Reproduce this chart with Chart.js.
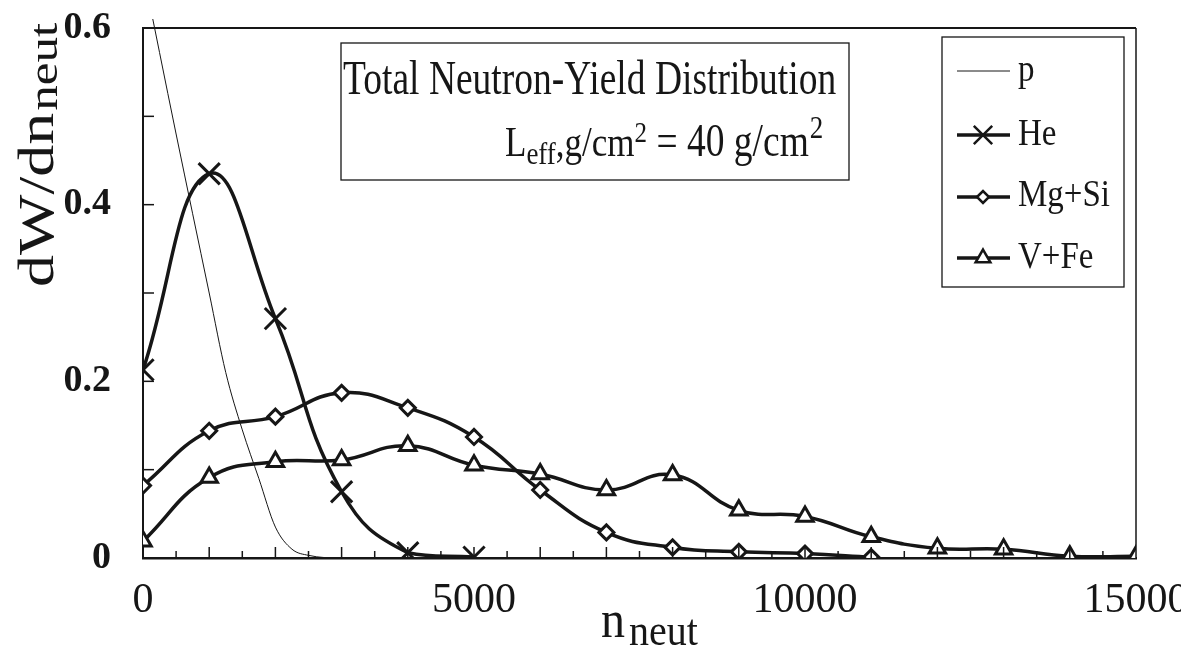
<!DOCTYPE html>
<html>
<head>
<meta charset="utf-8">
<script src="https://cdn.jsdelivr.net/npm/chart.js@4"></script>
<style>
  html, body { margin: 0; padding: 0; background: #fff; }
</style>
</head>
<body>
<canvas id="neutChart" width="1181" height="647"></canvas>
<script>
// values
const nP = [0, 500, 1000, 1250, 1500, 1750, 2000, 2250, 2500, 3000, 3500];
const pVals = [0.665, 0.48, 0.30, 0.21, 0.145, 0.09, 0.035, 0.01, 0.003, 0.0, 0.0];

const nHe = [0, 1000, 2000, 3000, 4000, 5000];
const heVals = [0.213, 0.435, 0.271, 0.075, 0.006, 0.001];

const nMgSi = [0, 1000, 2000, 3000, 4000, 5000, 6000, 7000, 8000, 9000, 10000, 11000];
const mgsiVals = [0.082, 0.144, 0.160, 0.187, 0.170, 0.137, 0.077, 0.029, 0.012, 0.007, 0.005, 0.001];

const nVFe = [0, 1000, 2000, 3000, 4000, 5000, 6000, 7000, 8000, 9000, 10000, 11000, 12000, 13000, 14000, 15000];
const vfeVals = [0.019, 0.091, 0.109, 0.111, 0.127, 0.105, 0.095, 0.077, 0.094, 0.054, 0.047, 0.024, 0.011, 0.010, 0.002, 0.002];

const xLabeled = [0, 5000, 10000, 15000];
const yLabeled = [0, 0.2, 0.4, 0.6];

const SERIF = '"Liberation Serif", "Times New Roman", serif';
const INK = '#161616';

function pts(xs, ys) {
  return xs.map((x, i) => ({ x: x, y: ys[i] }));
}

// text squeezed a bit like the scanned original
function stretchText(ctx, str, x, y, font, sx, sy) {
  ctx.save();
  ctx.translate(x, y);
  ctx.scale(sx, sy);
  ctx.font = font;
  ctx.textAlign = 'left';
  ctx.textBaseline = 'alphabetic';
  ctx.fillText(str, 0, 0);
  const w = ctx.measureText(str).width * sx;
  ctx.restore();
  return w;
}

const decorPlugin = {
  id: 'decor',
  afterDraw(chart) {
    const ctx = chart.ctx;
    const a = chart.chartArea;
    const xs = chart.scales.x;
    const ys = chart.scales.y;
    ctx.save();
    ctx.strokeStyle = INK;
    ctx.fillStyle = INK;

    // frame top + right
    ctx.lineWidth = 2;
    ctx.beginPath();
    ctx.moveTo(a.left, a.top);
    ctx.lineTo(a.right, a.top);
    ctx.stroke();
    ctx.lineWidth = 1.5;
    ctx.beginPath();
    ctx.moveTo(a.right, a.top);
    ctx.lineTo(a.right, a.bottom);
    ctx.stroke();

    // inward ticks
    ctx.lineWidth = 1.5;
    for (let v = 500; v < 15000; v += 500) {
      const px = xs.getPixelForValue(v);
      const len = v % 1000 === 0 ? 11 : 7;
      ctx.beginPath();
      ctx.moveTo(px, a.bottom);
      ctx.lineTo(px, a.bottom - len);
      ctx.stroke();
    }
    for (let k = 1; k < 6; k++) {
      const py = ys.getPixelForValue(k / 10);
      ctx.beginPath();
      ctx.moveTo(a.left, py);
      ctx.lineTo(a.left + 11, py);
      ctx.stroke();
    }

    // title box
    ctx.fillStyle = '#fff';
    ctx.fillRect(341, 43, 508, 137);
    ctx.lineWidth = 1.3;
    ctx.strokeRect(341, 43, 508, 137);
    ctx.fillStyle = INK;
    stretchText(ctx, 'Total Neutron-Yield Distribution', 343, 94, '37.5px ' + SERIF, 1, 1.32);
    let tx = 505;
    tx += stretchText(ctx, 'L', tx, 156, '35px ' + SERIF, 1, 1.2);
    tx += stretchText(ctx, 'eff', tx, 164, '27px ' + SERIF, 1, 1.2);
    tx += stretchText(ctx, ',g/cm', tx, 156, '35px ' + SERIF, 1, 1.2);
    tx += stretchText(ctx, '2', tx, 142, '25px ' + SERIF, 1, 1.2);
    tx += stretchText(ctx, ' = 40 g/cm', tx, 156, '37.5px ' + SERIF, 1, 1.25);
    stretchText(ctx, '2', tx + 1, 138, '27px ' + SERIF, 1, 1.2);

    // legend box
    ctx.fillStyle = '#fff';
    ctx.fillRect(942, 37, 182, 250);
    ctx.lineWidth = 1.3;
    ctx.strokeRect(942, 37, 182, 250);
    const items = chart.data.datasets;
    const lineY = [71, 135, 197, 258];
    const textY = [81, 145, 206, 268];
    items.forEach((ds, i) => {
      ctx.strokeStyle = INK;
      ctx.lineWidth = ds.borderWidth;
      ctx.beginPath();
      ctx.moveTo(957, lineY[i]);
      ctx.lineTo(1010, lineY[i]);
      ctx.stroke();
      if (ds.pointRadius > 0) {
        ctx.fillStyle = '#fff';
        ctx.lineWidth = 2.5;
        Chart.helpers.drawPoint(ctx, {
          pointStyle: ds.pointStyle,
          radius: ds.legendRadius,
          rotation: 0,
          borderWidth: 2.5
        }, 983, lineY[i]);
      }
      ctx.fillStyle = INK;
      stretchText(ctx, ds.label, 1018, textY[i], '33px ' + SERIF, 1, 1.15);
    });

    // y axis title, rotated, with subscript
    ctx.save();
    ctx.translate(53, 287);
    ctx.rotate(-Math.PI / 2);
    const w1 = stretchText(ctx, 'dW/dn', 0, 0, '50px ' + SERIF, 1.28, 1);
    stretchText(ctx, 'neut', w1 + 2, 4, '40px ' + SERIF, 1.28, 1);
    ctx.restore();

    // x axis title
    const w2 = stretchText(ctx, 'n', 601, 637, '48px ' + SERIF, 1, 1.1);
    stretchText(ctx, 'neut', 601 + w2 + 4, 645, '40px ' + SERIF, 1, 1.1);

    ctx.restore();
  }
};

const ctx = document.getElementById('neutChart');
new Chart(ctx, {
  type: 'line',
  data: {
    datasets: [
      {
        label: 'p',
        data: pts(nP, pVals),
        borderColor: INK,
        borderWidth: 1,
        pointRadius: 0,
        cubicInterpolationMode: 'monotone',
        clip: { left: 2, top: 9, right: 2, bottom: 2 }
      },
      {
        label: 'He',
        data: pts(nHe, heVals),
        borderColor: INK,
        borderWidth: 3.5,
        tension: 0.45,
        pointStyle: 'crossRot',
        pointRadius: 15,
        legendRadius: 13,
        pointBorderWidth: 3,
        pointBorderColor: INK,
        pointBackgroundColor: '#fff'
      },
      {
        label: 'Mg+Si',
        data: pts(nMgSi, mgsiVals),
        borderColor: INK,
        borderWidth: 3.5,
        tension: 0.45,
        pointStyle: 'rectRot',
        pointRadius: 7.5,
        legendRadius: 6,
        pointBorderWidth: 3,
        pointBorderColor: INK,
        pointBackgroundColor: '#fff'
      },
      {
        label: 'V+Fe',
        data: pts(nVFe, vfeVals),
        borderColor: INK,
        borderWidth: 3.5,
        tension: 0.45,
        pointStyle: 'triangle',
        pointRadius: 9.5,
        legendRadius: 8.5,
        pointBorderWidth: 3,
        pointBorderColor: INK,
        pointBackgroundColor: '#fff'
      }
    ]
  },
  options: {
    responsive: false,
    animation: false,
    layout: { padding: { top: 28, right: 45, left: 0, bottom: 0 } },
    plugins: {
      legend: { display: false },
      tooltip: { enabled: false }
    },
    scales: {
      x: {
        type: 'linear',
        min: 0,
        max: 15000,
        afterFit: s => { s.height = 89; s.paddingLeft = 0; s.paddingRight = 0; },
        afterBuildTicks: s => { s.ticks = xLabeled.map(v => ({ value: v })); },
        ticks: {
          padding: 18,
          maxRotation: 0,
          autoSkip: false,
          color: INK,
          font: { family: SERIF, size: 42 },
          callback: v => String(v)
        },
        grid: { drawOnChartArea: false, drawTicks: false },
        border: { color: INK, width: 2.5 }
      },
      y: {
        min: 0,
        max: 0.6,
        afterFit: s => { s.width = 143; s.paddingTop = 0; s.paddingBottom = 0; },
        afterBuildTicks: s => { s.ticks = yLabeled.map(v => ({ value: v })); },
        ticks: {
          padding: 32,
          color: INK,
          font: { family: SERIF, size: 38, weight: 'bold' },
          callback: v => (v === 0 ? '0' : v.toFixed(1))
        },
        grid: { drawOnChartArea: false, drawTicks: false },
        border: { color: INK, width: 2 }
      }
    }
  },
  plugins: [decorPlugin]
});
</script>
</body>
</html>
